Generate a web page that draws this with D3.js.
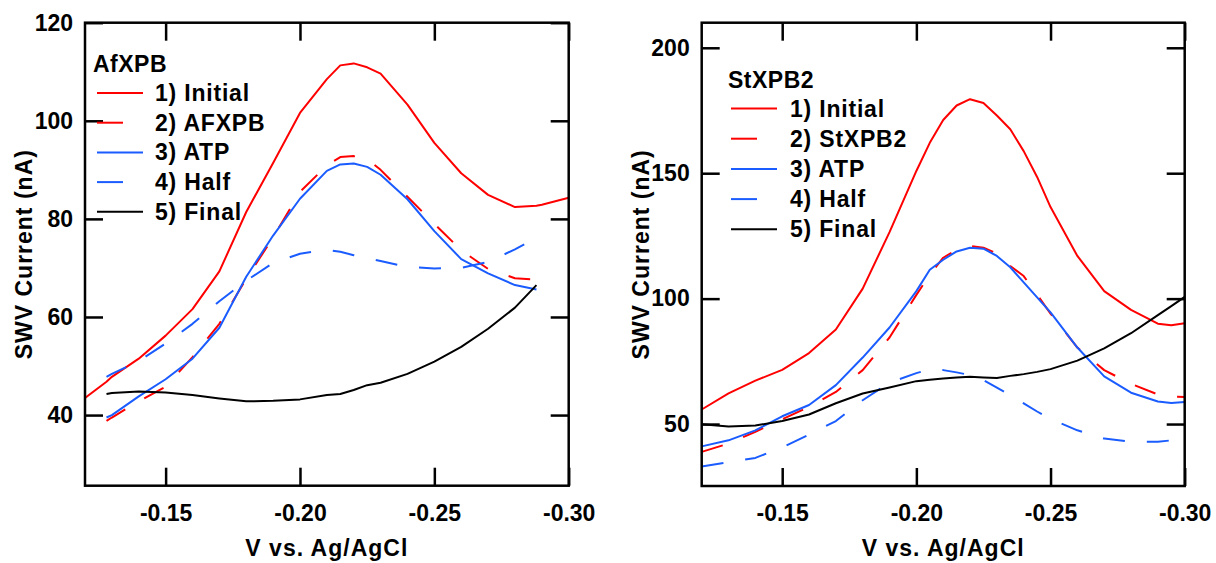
<!DOCTYPE html>
<html>
<head>
<meta charset="utf-8">
<script src="https://cdn.jsdelivr.net/npm/d3@7"></script>
<style>
  html, body { margin: 0; padding: 0; background: #fff; }
  svg { display: block; }
  text { font-family: "Liberation Sans", Arial, sans-serif; fill: #000; }
</style>
</head>
<body>
<svg id="chart" width="1216" height="563"></svg>
<script>
// ---------- DATA ----------
const seriesNamesLeft  = ["1) Initial", "2) AFXPB", "3) ATP", "4) Half", "5) Final"];
const seriesNamesRight = ["1) Initial", "2) StXPB2", "3) ATP", "4) Half", "5) Final"];
const leftTitle = "AfXPB";
const rightTitle = "StXPB2";

const leftV = [-0.12, -0.128, -0.13, -0.14, -0.15, -0.16, -0.17, -0.18, -0.19, -0.20, -0.21, -0.215, -0.22, -0.225, -0.23, -0.24, -0.25, -0.26, -0.27, -0.28, -0.288, -0.29, -0.30];
const leftInitial = [43.5, 46.8, 47.8, 51.5, 56.2, 61.6, 69.3, 81.4, 91.4, 101.6, 108.5, 111.3, 111.7, 110.9, 109.6, 103.3, 95.5, 89.3, 84.9, 82.4, 82.7, 82.9, 84.3];
const leftAFXPB   = [null, 38.8, 39.5, 42.8, 45.8, 51.8, 58.6, 67.8, 76.2, 85.5, 90.9, 92.6, 92.8, 92.2, 90.0, 84.5, 79.0, 73.6, 69.8, 67.9, 67.6, null, null];
const leftATP     = [null, 39.5, 40.0, 43.8, 47.3, 51.5, 57.8, 68.2, 76.6, 84.1, 89.8, 91.1, 91.3, 90.6, 89.0, 84.0, 77.5, 71.8, 68.9, 66.5, 65.6, null, null];
const leftHalf    = [null, 47.8, 48.4, 51.0, 54.6, 58.6, 63.2, 67.4, 71.0, 72.9, 73.7, 73.3, 72.6, 72.0, 71.4, 70.2, 69.9, 70.0, 71.2, 73.8, 76.1, null, null];
const leftFinal   = [null, 44.3, 44.5, 44.8, 44.6, 44.1, 43.4, 42.8, 42.9, 43.2, 44.1, 44.3, 45.1, 46.1, 46.6, 48.4, 50.9, 53.9, 57.6, 61.9, 66.5, null, null];

const rightV = [-0.12, -0.13, -0.14, -0.15, -0.16, -0.17, -0.18, -0.19, -0.20, -0.205, -0.21, -0.215, -0.22, -0.225, -0.23, -0.235, -0.24, -0.245, -0.25, -0.26, -0.27, -0.28, -0.29, -0.295, -0.30];
const rightInitial = [55.8, 62.2, 67.3, 71.6, 78.3, 87.7, 104.0, 126.5, 150.9, 162.1, 171.2, 177.0, 179.5, 178.0, 173.0, 167.5, 158.8, 148.5, 136.5, 117.0, 103.0, 95.5, 90.0, 89.4, 90.2];
const rightStXPB2  = [38.9, 42.2, 46.9, 51.9, 56.8, 62.8, 71.5, 84.5, 101.5, 109.5, 116.3, 119.5, 121.0, 120.3, 118.0, 113.0, 109.0, 101.6, 94.0, 80.5, 71.5, 66.0, 61.8, 61.0, 60.8];
const rightATP     = [41.1, 43.5, 47.5, 53.1, 57.6, 65.5, 76.5, 88.5, 103.0, 111.5, 115.5, 118.8, 120.3, 119.9, 117.0, 112.5, 106.5, 100.5, 94.5, 80.5, 69.0, 62.5, 59.0, 58.4, 58.8];
const rightHalf    = [33.1, 34.8, 36.5, 40.7, 45.8, 51.2, 59.5, 66.5, 70.3, 71.8, 71.5, 70.6, 69.5, 67.5, 64.5, 61.5, 58.2, 55.0, 52.0, 47.5, 44.2, 43.0, 42.9, 43.5, 44.9];
const rightFinal   = [49.9, 49.0, 49.4, 51.2, 53.8, 58.3, 62.2, 64.6, 67.1, 67.7, 68.2, 68.6, 68.9, 68.6, 68.4, 69.2, 69.9, 70.8, 71.9, 75.3, 80.2, 86.2, 93.4, 97.0, 100.7];

const xTickValues = [-0.15, -0.20, -0.25, -0.30];
const xTickLabels = ["-0.15", "-0.20", "-0.25", "-0.30"];
const leftYTicks  = [40, 60, 80, 100, 120];
const rightYTicks = [50, 100, 150, 200];
const xDomain = [-0.12, -0.30];
const leftYDomain  = [25.6, 120];
const rightYDomain = [25.3, 210];
const xTitle = "V vs. Ag/AgCl";
const yTitle = "SWV Current (nA)";

// ---------- STYLE ----------
const colors = ["#ff0000", "#ff0000", "#1a5cff", "#1a5cff", "#000000"];
const dashed = [false, true, false, true, false];
const FONT = 23;

const svg = d3.select("#chart");

function panel(cfg) {
  const x = d3.scaleLinear().domain(xDomain).range([cfg.x0, cfg.x1]);
  const y = d3.scaleLinear().domain(cfg.yDomain).range([cfg.y1, cfg.y0]);
  const g = svg.append("g");

  const clipId = "clip" + cfg.id;
  g.append("clipPath").attr("id", clipId).append("rect")
    .attr("x", cfg.x0).attr("y", cfg.y0).attr("width", cfg.x1 - cfg.x0).attr("height", cfg.y1 - cfg.y0);

  // curves
  const lines = g.append("g").attr("clip-path", `url(#${clipId})`);
  cfg.series.forEach((vals, i) => {
    const pts = cfg.v.map((v, j) => [v, vals[j]]);
    const line = d3.line().defined(d => d[1] != null).x(d => x(d[0])).y(d => y(d[1]));
    lines.append("path").attr("d", line(pts))
      .attr("fill", "none").attr("stroke", colors[i]).attr("stroke-width", 2)
      .attr("stroke-linejoin", "round")
      .attr("stroke-dasharray", dashed[i] ? "22,22" : null);
  });

  // axes (ticks inward on all sides)
  const T = 18;
  const axStyle = sel => {
    sel.select(".domain").remove();
    sel.selectAll(".tick line").attr("stroke", "#000").attr("stroke-width", 2.5);
    sel.selectAll(".tick text").attr("font-size", FONT).attr("font-weight", "bold")
      .attr("font-family", "'Liberation Sans', Arial, sans-serif").attr("fill", "#000");
  };
  g.append("g").attr("transform", `translate(0,${cfg.y1})`)
    .call(d3.axisBottom(x).tickValues(xTickValues).tickFormat((d, i) => xTickLabels[i]).tickSizeInner(-T).tickSizeOuter(0).tickPadding(19))
    .call(axStyle);
  g.append("g").attr("transform", `translate(0,${cfg.y0})`)
    .call(d3.axisTop(x).tickValues(xTickValues).tickFormat("").tickSizeInner(-T).tickSizeOuter(0))
    .call(axStyle);
  g.append("g").attr("transform", `translate(${cfg.x0},0)`)
    .call(d3.axisLeft(y).tickValues(cfg.yTicks).tickFormat(d => String(d)).tickSizeInner(-T).tickSizeOuter(0).tickPadding(12))
    .call(axStyle);
  g.append("g").attr("transform", `translate(${cfg.x1},0)`)
    .call(d3.axisRight(y).tickValues(cfg.yTicks).tickFormat("").tickSizeInner(-T).tickSizeOuter(0))
    .call(axStyle);

  // frame
  g.append("rect").attr("x", cfg.x0).attr("y", cfg.y0)
    .attr("width", cfg.x1 - cfg.x0).attr("height", cfg.y1 - cfg.y0)
    .attr("fill", "none").attr("stroke", "#000").attr("stroke-width", 2.5);

  // axis titles
  g.append("text").attr("x", (cfg.x0 + cfg.x1) / 2).attr("y", 556)
    .attr("text-anchor", "middle").attr("font-size", FONT).attr("font-weight", "bold")
    .attr("letter-spacing", 1).text(xTitle);
  g.append("text").attr("transform", `translate(${cfg.yTitleX},${(cfg.y0 + cfg.y1) / 2}) rotate(-90)`)
    .attr("text-anchor", "middle").attr("font-size", FONT).attr("font-weight", "bold")
    .attr("letter-spacing", 1).text(yTitle);

  // legend
  const L = cfg.legend;
  g.append("text").attr("x", L.titleX).attr("y", L.titleY)
    .attr("font-size", FONT).attr("font-weight", "bold").attr("letter-spacing", 0.5).text(cfg.title);
  cfg.names.forEach((name, i) => {
    const cy = L.rowY + i * L.rowStep;
    g.append("line").attr("x1", L.lineX0).attr("x2", L.lineX1).attr("y1", cy).attr("y2", cy)
      .attr("stroke", colors[i]).attr("stroke-width", 2)
      .attr("stroke-dasharray", dashed[i] ? "26,40" : null);
    g.append("text").attr("x", L.textX).attr("y", cy + 8)
      .attr("font-size", FONT).attr("font-weight", "bold").attr("letter-spacing", 0.8).text(name);
  });
}

panel({
  id: "L", x0: 85, x1: 568.7, y0: 22.7, y1: 485.7,
  yDomain: leftYDomain, yTicks: leftYTicks, yTitleX: 32,
  v: leftV, series: [leftInitial, leftAFXPB, leftATP, leftHalf, leftFinal],
  names: seriesNamesLeft, title: leftTitle,
  legend: { titleX: 93, titleY: 72, rowY: 93, rowStep: 29.7, lineX0: 97, lineX1: 143, textX: 155 }
});
panel({
  id: "R", x0: 701.7, x1: 1184.7, y0: 22.7, y1: 486,
  yDomain: rightYDomain, yTicks: rightYTicks, yTitleX: 649,
  v: rightV, series: [rightInitial, rightStXPB2, rightATP, rightHalf, rightFinal],
  names: seriesNamesRight, title: rightTitle,
  legend: { titleX: 728, titleY: 88, rowY: 108.5, rowStep: 30.2, lineX0: 731, lineX1: 777, textX: 790 }
});
</script>
</body>
</html>
